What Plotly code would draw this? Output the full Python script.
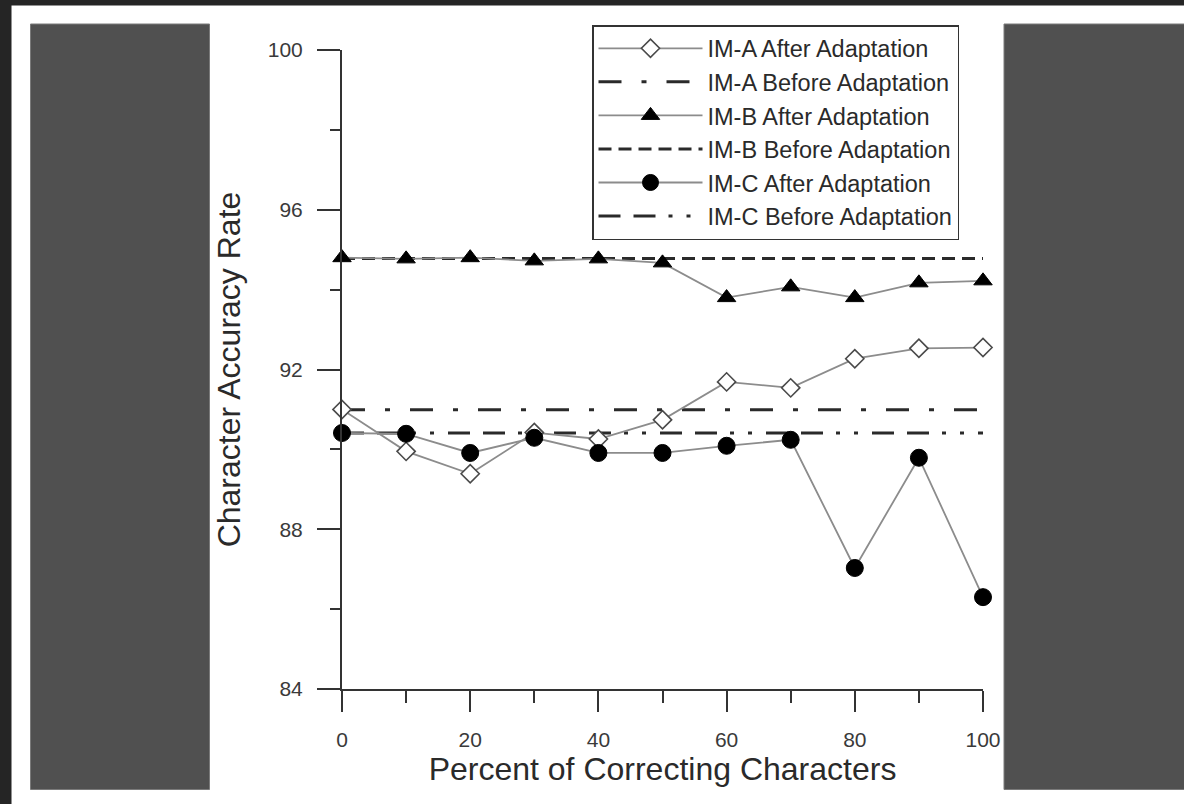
import plotly.graph_objects as go

# ---------------- data ----------------
x_pct = [0, 10, 20, 30, 40, 50, 60, 70, 80, 90, 100]
im_a_after = [91.0, 89.95, 89.39, 90.42, 90.26, 90.74, 91.69, 91.54, 92.27, 92.53, 92.55]
im_b_after = [94.80, 94.77, 94.80, 94.72, 94.77, 94.67, 93.80, 94.07, 93.80, 94.17, 94.22]
im_c_after = [90.41, 90.39, 89.91, 90.29, 89.91, 89.91, 90.09, 90.24, 87.03, 89.79, 86.30]
im_a_before = 90.99
im_b_before = 94.78
im_c_before = 90.41

x_ticks = [0, 20, 40, 60, 80, 100]
y_ticks = [84, 88, 92, 96, 100]
x_title = "Percent of Correcting Characters"
y_title = "Character Accuracy Rate"

# ---------------- geometry helpers (pixel -> paper) ----------------
W, H = 1184, 804
L, R, T, B = 342, 201, 50, 115
PW, PH = W - L - R, H - T - B


def px(xp):
    return (xp - L) / PW


def py(yp):
    return (H - B - yp) / PH


FONT = "Liberation Sans, Arial, sans-serif"
DARK = "#2a2a2a"
GRAY_LINE = "#8c8c8c"

fig = go.Figure()

x_span = [x_pct[0], x_pct[-1]]

# before-adaptation reference lines
fig.add_trace(go.Scatter(
    x=x_span, y=[im_a_before] * 2, mode="lines", name="IM-A Before Adaptation",
    line=dict(color=DARK, width=3, dash="23px,20px,5px,20px"), legendrank=2,
    cliponaxis=False))
fig.add_trace(go.Scatter(
    x=x_span, y=[im_b_before] * 2, mode="lines", name="IM-B Before Adaptation",
    line=dict(color=DARK, width=3, dash="13px,7px"), legendrank=4,
    cliponaxis=False))
fig.add_trace(go.Scatter(
    x=x_span, y=[im_c_before] * 2, mode="lines", name="IM-C Before Adaptation",
    line=dict(color=DARK, width=3, dash="22px,13px,22px,13px,4px,14px,4px,14px"),
    legendrank=6, cliponaxis=False))

# after-adaptation series
fig.add_trace(go.Scatter(
    x=x_pct, y=im_a_after, mode="lines+markers", name="IM-A After Adaptation",
    line=dict(color=GRAY_LINE, width=1.8),
    marker=dict(symbol="diamond", size=14, color="white",
                line=dict(color="#4a4a4a", width=1.6)),
    legendrank=1, cliponaxis=False))
fig.add_trace(go.Scatter(
    x=x_pct, y=im_b_after, mode="lines+markers", name="IM-B After Adaptation",
    line=dict(color=GRAY_LINE, width=1.8),
    marker=dict(symbol="triangle-up", size=16, color="black",
                line=dict(color="black", width=1)),
    legendrank=3, cliponaxis=False))
fig.add_trace(go.Scatter(
    x=x_pct, y=im_c_after, mode="lines+markers", name="IM-C After Adaptation",
    line=dict(color=GRAY_LINE, width=1.8),
    marker=dict(symbol="circle", size=17, color="black",
                line=dict(color="black", width=1)),
    legendrank=5, cliponaxis=False))

# ---------------- background decoration ----------------
shapes = []
# dark outer frame (top and left)
shapes.append(dict(type="rect", xref="paper", yref="paper", layer="below",
                   x0=px(0), x1=px(W), y0=py(0), y1=py(5.5),
                   fillcolor="#252525", line=dict(width=0)))
shapes.append(dict(type="rect", xref="paper", yref="paper", layer="below",
                   x0=px(0), x1=px(11.5), y0=py(0), y1=py(H),
                   fillcolor="#252525", line=dict(width=0)))
# gray side panels
shapes.append(dict(type="rect", xref="paper", yref="paper", layer="below",
                   x0=px(30.5), x1=px(209.5), y0=py(24), y1=py(789.5),
                   fillcolor="#505050", line=dict(color="#7a7a7a", width=1)))
shapes.append(dict(type="rect", xref="paper", yref="paper", layer="below",
                   x0=px(1004), x1=px(W + 2), y0=py(24), y1=py(789.5),
                   fillcolor="#505050", line=dict(color="#7a7a7a", width=1)))

axis_common = dict(
    showgrid=False, zeroline=False, showline=True, linecolor="#333333",
    linewidth=2, ticks="outside", tickcolor="#333333", tickwidth=2,
    tickfont=dict(family=FONT, size=21, color="#3a3a3a"),
    title_font=dict(family=FONT, size=32, color="#2a2a2a"),
)

fig.update_layout(
    width=W, height=H,
    margin=dict(l=L, r=R, t=T, b=B, autoexpand=False),
    paper_bgcolor="white", plot_bgcolor="white",
    shapes=shapes,
    xaxis=dict(
        range=[0, 100], tickvals=x_ticks, ticklen=21,
        minor=dict(dtick=10, tick0=0, ticks="outside", ticklen=12,
                   tickcolor="#333333", tickwidth=2),
        title=dict(text=x_title + "\u00a0" * 4, standoff=2),
        ticklabelstandoff=10,
        **axis_common),
    yaxis=dict(
        range=[84, 100], tickvals=y_ticks, ticklen=23,
        minor=dict(dtick=2, tick0=84, ticks="outside", ticklen=10,
                   tickcolor="#333333", tickwidth=2),
        title=dict(text=y_title, standoff=18),
        ticklabelstandoff=10,
        **axis_common),
    legend=dict(
        x=px(592), y=py(25), xanchor="left", yanchor="top",
        bgcolor="white", bordercolor="#333333", borderwidth=1.5,
        font=dict(family=FONT, size=23.5, color="#2a2a2a"),
        itemwidth=104, traceorder="normal",
    ),
    showlegend=True,
)

fig.write_html("out.html", config={"displayModeBar": False},
               post_script="document.body.style.margin='0';document.body.style.overflow='hidden';")
